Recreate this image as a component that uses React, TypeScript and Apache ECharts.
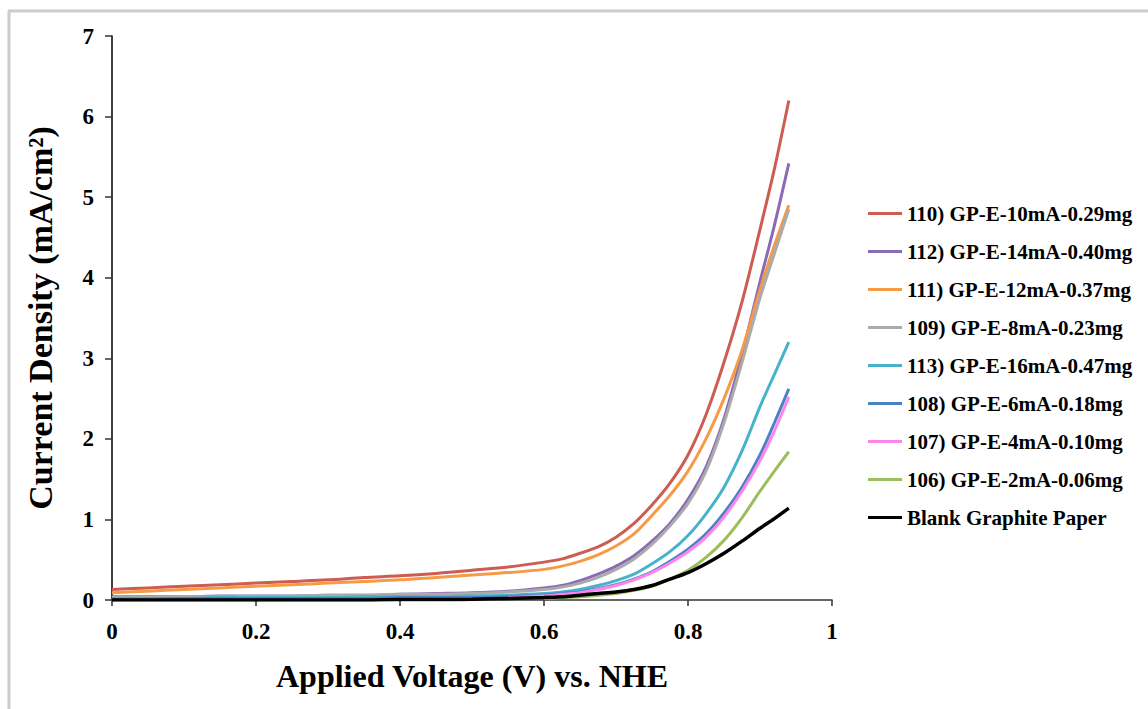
import React, { useEffect, useRef } from "react";
import * as echarts from "echarts";

const VOLTAGE = [0, 0.05, 0.1, 0.15, 0.2, 0.25, 0.3, 0.35, 0.4, 0.45, 0.5, 0.55, 0.6, 0.625, 0.65, 0.675, 0.7, 0.725, 0.75, 0.775, 0.8, 0.825, 0.85, 0.875, 0.9, 0.92, 0.94];

const S110 = [0.13, 0.15, 0.17, 0.19, 0.21, 0.23, 0.25, 0.28, 0.3, 0.33, 0.37, 0.41, 0.47, 0.51, 0.58, 0.66, 0.78, 0.95, 1.18, 1.45, 1.8, 2.3, 2.95, 3.7, 4.6, 5.35, 6.2];
const S112 = [0.04, 0.04, 0.04, 0.05, 0.05, 0.05, 0.06, 0.06, 0.07, 0.08, 0.09, 0.11, 0.15, 0.18, 0.24, 0.32, 0.42, 0.55, 0.73, 0.95, 1.25, 1.65, 2.25, 3.05, 3.95, 4.65, 5.42];
const S111 = [0.09, 0.11, 0.13, 0.15, 0.17, 0.19, 0.21, 0.23, 0.25, 0.28, 0.31, 0.34, 0.38, 0.42, 0.48, 0.56, 0.67, 0.82, 1.05, 1.3, 1.6, 2.0, 2.5, 3.1, 3.85, 4.4, 4.9];
const S109 = [0.03, 0.03, 0.04, 0.04, 0.05, 0.05, 0.06, 0.06, 0.07, 0.07, 0.08, 0.1, 0.13, 0.16, 0.21, 0.28, 0.38, 0.51, 0.69, 0.92, 1.2, 1.6, 2.2, 2.95, 3.75, 4.3, 4.85];
const S113 = [0.02, 0.02, 0.02, 0.03, 0.03, 0.03, 0.03, 0.04, 0.04, 0.04, 0.05, 0.06, 0.08, 0.1, 0.13, 0.18, 0.24, 0.32, 0.45, 0.6, 0.8, 1.07, 1.4, 1.85, 2.4, 2.8, 3.2];
const S108 = [0.01, 0.01, 0.02, 0.02, 0.02, 0.02, 0.02, 0.02, 0.03, 0.03, 0.03, 0.04, 0.06, 0.08, 0.1, 0.14, 0.19, 0.26, 0.35, 0.48, 0.63, 0.82, 1.08, 1.4, 1.8, 2.2, 2.62];
const S107 = [null, null, null, null, null, null, null, null, null, null, null, 0.03, 0.05, 0.07, 0.09, 0.13, 0.18, 0.25, 0.34, 0.46, 0.6, 0.78, 1.03, 1.35, 1.73, 2.1, 2.52];
const S106 = [null, null, null, null, null, null, null, null, null, null, null, null, 0.02, 0.03, 0.04, 0.06, 0.08, 0.12, 0.17, 0.26, 0.37, 0.53, 0.74, 1.02, 1.35, 1.6, 1.84];
const BLANK = [0, 0, 0, 0, 0, 0, 0, 0, 0.005, 0.005, 0.01, 0.02, 0.03, 0.04, 0.06, 0.08, 0.1, 0.13, 0.18, 0.26, 0.34, 0.45, 0.58, 0.73, 0.89, 1.01, 1.14];

const SERIES_NAMES = [
  "110) GP-E-10mA-0.29mg",
  "112) GP-E-14mA-0.40mg",
  "111) GP-E-12mA-0.37mg",
  "109) GP-E-8mA-0.23mg",
  "113) GP-E-16mA-0.47mg",
  "108) GP-E-6mA-0.18mg",
  "107) GP-E-4mA-0.10mg",
  "106) GP-E-2mA-0.06mg",
  "Blank Graphite Paper",
];
const SERIES_VALUES = [S110, S112, S111, S109, S113, S108, S107, S106, BLANK];
const SERIES_COLORS = ["#CD5C52", "#8B6BB5", "#F79A46", "#ABABAB", "#46B2CC", "#4A83C4", "#FF85EC", "#9CBF5A", "#000000"];

const X_TITLE = "Applied Voltage (V) vs. NHE";
const Y_TITLE = "Current Density (mA/cm²)";

const FONT = "'Liberation Serif', 'Times New Roman', serif";

export default function App() {
  const ref = useRef<HTMLDivElement>(null);
  useEffect(() => {
    document.body.style.margin = "0";
    const chart = echarts.init(ref.current!, undefined, { renderer: "svg" });
    const series = SERIES_NAMES.map((name, i) => ({
      name,
      type: "line",
      data: VOLTAGE.map((v, j) => [v, SERIES_VALUES[i][j]]),
      smooth: 0.3,
      symbol: "none",
      connectNulls: false,
      lineStyle: { color: SERIES_COLORS[i], width: i === 8 ? 3.5 : 3 },
      itemStyle: { color: SERIES_COLORS[i] },
    }));
    chart.setOption({
      animation: false,
      backgroundColor: "#ffffff",
      textStyle: { fontFamily: FONT },
      grid: { left: 112, right: 316, top: 36, bottom: 109 },
      xAxis: {
        type: "value",
        min: 0,
        max: 1,
        interval: 0.2,
        name: X_TITLE,
        nameLocation: "middle",
        nameGap: 60,
        nameTextStyle: { fontFamily: FONT, fontWeight: "bold", fontSize: 32, color: "#000" },
        axisLine: { lineStyle: { color: "#333", width: 1.5 } },
        axisTick: { show: true, inside: false, length: 6, lineStyle: { color: "#333", width: 1.5 } },
        axisLabel: { fontFamily: FONT, fontWeight: "bold", fontSize: 23, color: "#000", margin: 20 },
        splitLine: { show: false },
      },
      yAxis: {
        type: "value",
        min: 0,
        max: 7,
        interval: 1,
        name: Y_TITLE,
        nameLocation: "middle",
        nameGap: 55,
        nameRotate: 90,
        nameTextStyle: { fontFamily: FONT, fontWeight: "bold", fontSize: 34, color: "#000" },
        axisLine: { show: true, lineStyle: { color: "#000", width: 1.5 } },
        axisTick: { show: true, inside: false, length: 7, lineStyle: { color: "#333", width: 1.5 } },
        axisLabel: { fontFamily: FONT, fontWeight: "bold", fontSize: 23, color: "#000", margin: 18 },
        splitLine: { show: false },
      },
      legend: {
        orient: "vertical",
        left: 863,
        top: 198,
        icon: "rect",
        itemWidth: 34,
        itemHeight: 3,
        itemGap: 17,
        textStyle: { fontFamily: FONT, fontWeight: "bold", fontSize: 21, color: "#000" },
        data: SERIES_NAMES,
      },
      graphic: [
        { type: "line", shape: { x1: 8, y1: 11, x2: 1148, y2: 11 }, style: { stroke: "#cccccc", lineWidth: 3 } },
        { type: "line", shape: { x1: 9, y1: 11, x2: 9, y2: 709 }, style: { stroke: "#cccccc", lineWidth: 3 } },
      ],
      series,
    });
    return () => chart.dispose();
  }, []);
  return <div ref={ref} style={{ position: "fixed", left: 0, top: 0, width: 1148, height: 709 }} />;
}
